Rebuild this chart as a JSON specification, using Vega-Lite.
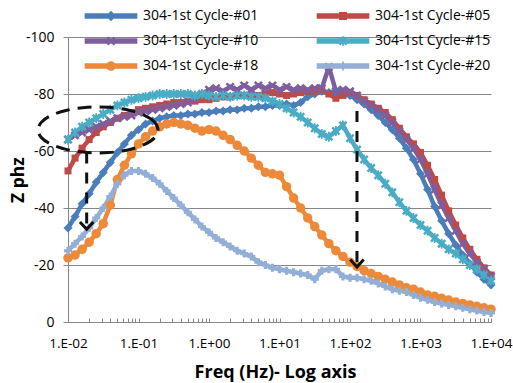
{
  "$schema": "https://vega.github.io/schema/vega-lite/v6.json",
  "width": 423,
  "height": 285,
  "autosize": "none",
  "padding": {"left": 68, "top": 37, "right": 22, "bottom": 61},
  "background": "white",
  "config": {"view": {"stroke": null}, "font": "Open Sans"},
  "datasets": {
    "series": [
      {"s":"304-1st Cycle-#01","f":0.01,"z":-33},{"s":"304-1st Cycle-#01","f":0.01259,"z":-37},{"s":"304-1st Cycle-#01","f":0.01585,"z":-41.5},{"s":"304-1st Cycle-#01","f":0.01995,"z":-45},{"s":"304-1st Cycle-#01","f":0.02512,"z":-49},{"s":"304-1st Cycle-#01","f":0.03162,"z":-52.5},{"s":"304-1st Cycle-#01","f":0.03981,"z":-56},{"s":"304-1st Cycle-#01","f":0.05012,"z":-59.5},{"s":"304-1st Cycle-#01","f":0.0631,"z":-62.5},{"s":"304-1st Cycle-#01","f":0.07943,"z":-65.5},{"s":"304-1st Cycle-#01","f":0.1,"z":-67.5},
      {"s":"304-1st Cycle-#01","f":0.1259,"z":-69.5},{"s":"304-1st Cycle-#01","f":0.1585,"z":-70.5},{"s":"304-1st Cycle-#01","f":0.1995,"z":-71.5},{"s":"304-1st Cycle-#01","f":0.2512,"z":-72},{"s":"304-1st Cycle-#01","f":0.3162,"z":-72.5},{"s":"304-1st Cycle-#01","f":0.3981,"z":-72.5},{"s":"304-1st Cycle-#01","f":0.5012,"z":-73},{"s":"304-1st Cycle-#01","f":0.631,"z":-73},{"s":"304-1st Cycle-#01","f":0.7943,"z":-73.5},{"s":"304-1st Cycle-#01","f":1,"z":-73.5},
      {"s":"304-1st Cycle-#01","f":1.259,"z":-74},{"s":"304-1st Cycle-#01","f":1.585,"z":-74},{"s":"304-1st Cycle-#01","f":1.995,"z":-74.5},{"s":"304-1st Cycle-#01","f":2.512,"z":-74.5},{"s":"304-1st Cycle-#01","f":3.162,"z":-75},{"s":"304-1st Cycle-#01","f":3.981,"z":-75},{"s":"304-1st Cycle-#01","f":5.012,"z":-75.5},{"s":"304-1st Cycle-#01","f":6.31,"z":-75.5},{"s":"304-1st Cycle-#01","f":7.943,"z":-76},{"s":"304-1st Cycle-#01","f":10,"z":-76},
      {"s":"304-1st Cycle-#01","f":12.59,"z":-76.5},{"s":"304-1st Cycle-#01","f":15.85,"z":-76},{"s":"304-1st Cycle-#01","f":19.95,"z":-77},{"s":"304-1st Cycle-#01","f":25.12,"z":-79},{"s":"304-1st Cycle-#01","f":31.62,"z":-80},{"s":"304-1st Cycle-#01","f":39.81,"z":-81},{"s":"304-1st Cycle-#01","f":50.12,"z":-80.5},{"s":"304-1st Cycle-#01","f":63.1,"z":-81},{"s":"304-1st Cycle-#01","f":79.43,"z":-80},{"s":"304-1st Cycle-#01","f":100,"z":-79.5},
      {"s":"304-1st Cycle-#01","f":125.9,"z":-78},{"s":"304-1st Cycle-#01","f":158.5,"z":-76.5},{"s":"304-1st Cycle-#01","f":199.5,"z":-74.5},{"s":"304-1st Cycle-#01","f":251.2,"z":-72.5},{"s":"304-1st Cycle-#01","f":316.2,"z":-70},{"s":"304-1st Cycle-#01","f":398.1,"z":-67.5},{"s":"304-1st Cycle-#01","f":501.2,"z":-64.5},{"s":"304-1st Cycle-#01","f":631,"z":-61},{"s":"304-1st Cycle-#01","f":794.3,"z":-57},{"s":"304-1st Cycle-#01","f":1000,"z":-52},
      {"s":"304-1st Cycle-#01","f":1259,"z":-46.5},{"s":"304-1st Cycle-#01","f":1585,"z":-40.5},{"s":"304-1st Cycle-#01","f":1995,"z":-35.5},{"s":"304-1st Cycle-#01","f":2512,"z":-31},{"s":"304-1st Cycle-#01","f":3162,"z":-27},{"s":"304-1st Cycle-#01","f":3981,"z":-23.5},{"s":"304-1st Cycle-#01","f":5012,"z":-20.5},{"s":"304-1st Cycle-#01","f":6310,"z":-17.5},{"s":"304-1st Cycle-#01","f":7943,"z":-15},{"s":"304-1st Cycle-#01","f":10000,"z":-13},

      {"s":"304-1st Cycle-#05","f":0.01,"z":-53},{"s":"304-1st Cycle-#05","f":0.01259,"z":-57.5},{"s":"304-1st Cycle-#05","f":0.01585,"z":-61},{"s":"304-1st Cycle-#05","f":0.01995,"z":-64},{"s":"304-1st Cycle-#05","f":0.02512,"z":-66.5},{"s":"304-1st Cycle-#05","f":0.03162,"z":-68.5},{"s":"304-1st Cycle-#05","f":0.03981,"z":-70},{"s":"304-1st Cycle-#05","f":0.05012,"z":-71.5},{"s":"304-1st Cycle-#05","f":0.0631,"z":-72.5},{"s":"304-1st Cycle-#05","f":0.07943,"z":-73.5},{"s":"304-1st Cycle-#05","f":0.1,"z":-74.5},
      {"s":"304-1st Cycle-#05","f":0.1259,"z":-75},{"s":"304-1st Cycle-#05","f":0.1585,"z":-75.5},{"s":"304-1st Cycle-#05","f":0.1995,"z":-76},{"s":"304-1st Cycle-#05","f":0.2512,"z":-76.5},{"s":"304-1st Cycle-#05","f":0.3162,"z":-77},{"s":"304-1st Cycle-#05","f":0.3981,"z":-77},{"s":"304-1st Cycle-#05","f":0.5012,"z":-77.5},{"s":"304-1st Cycle-#05","f":0.631,"z":-77.5},{"s":"304-1st Cycle-#05","f":0.7943,"z":-78},{"s":"304-1st Cycle-#05","f":1,"z":-78},
      {"s":"304-1st Cycle-#05","f":1.259,"z":-78.5},{"s":"304-1st Cycle-#05","f":1.585,"z":-79},{"s":"304-1st Cycle-#05","f":1.995,"z":-79},{"s":"304-1st Cycle-#05","f":2.512,"z":-79.5},{"s":"304-1st Cycle-#05","f":3.162,"z":-79.5},{"s":"304-1st Cycle-#05","f":3.981,"z":-80},{"s":"304-1st Cycle-#05","f":5.012,"z":-79.5},{"s":"304-1st Cycle-#05","f":6.31,"z":-80},{"s":"304-1st Cycle-#05","f":7.943,"z":-80.5},{"s":"304-1st Cycle-#05","f":10,"z":-80},
      {"s":"304-1st Cycle-#05","f":12.59,"z":-79.5},{"s":"304-1st Cycle-#05","f":15.85,"z":-80},{"s":"304-1st Cycle-#05","f":19.95,"z":-80.5},{"s":"304-1st Cycle-#05","f":25.12,"z":-81},{"s":"304-1st Cycle-#05","f":31.62,"z":-81},{"s":"304-1st Cycle-#05","f":39.81,"z":-81.5},{"s":"304-1st Cycle-#05","f":50.12,"z":-80},{"s":"304-1st Cycle-#05","f":63.1,"z":-78.5},{"s":"304-1st Cycle-#05","f":79.43,"z":-79.5},{"s":"304-1st Cycle-#05","f":100,"z":-80.5},
      {"s":"304-1st Cycle-#05","f":125.9,"z":-79.5},{"s":"304-1st Cycle-#05","f":158.5,"z":-78},{"s":"304-1st Cycle-#05","f":199.5,"z":-76.5},{"s":"304-1st Cycle-#05","f":251.2,"z":-75},{"s":"304-1st Cycle-#05","f":316.2,"z":-73.5},{"s":"304-1st Cycle-#05","f":398.1,"z":-71},{"s":"304-1st Cycle-#05","f":501.2,"z":-68},{"s":"304-1st Cycle-#05","f":631,"z":-65},{"s":"304-1st Cycle-#05","f":794.3,"z":-62.5},{"s":"304-1st Cycle-#05","f":1000,"z":-59.5},
      {"s":"304-1st Cycle-#05","f":1259,"z":-55},{"s":"304-1st Cycle-#05","f":1585,"z":-50},{"s":"304-1st Cycle-#05","f":1995,"z":-44.5},{"s":"304-1st Cycle-#05","f":2512,"z":-39},{"s":"304-1st Cycle-#05","f":3162,"z":-34},{"s":"304-1st Cycle-#05","f":3981,"z":-29.5},{"s":"304-1st Cycle-#05","f":5012,"z":-25.5},{"s":"304-1st Cycle-#05","f":6310,"z":-22},{"s":"304-1st Cycle-#05","f":7943,"z":-19},{"s":"304-1st Cycle-#05","f":10000,"z":-16.5},

      {"s":"304-1st Cycle-#10","f":0.01,"z":-64},{"s":"304-1st Cycle-#10","f":0.01259,"z":-65.5},{"s":"304-1st Cycle-#10","f":0.01585,"z":-66.5},{"s":"304-1st Cycle-#10","f":0.01995,"z":-67.5},{"s":"304-1st Cycle-#10","f":0.02512,"z":-68.5},{"s":"304-1st Cycle-#10","f":0.03162,"z":-69.5},{"s":"304-1st Cycle-#10","f":0.03981,"z":-70.5},{"s":"304-1st Cycle-#10","f":0.05012,"z":-71.5},{"s":"304-1st Cycle-#10","f":0.0631,"z":-72},{"s":"304-1st Cycle-#10","f":0.07943,"z":-72.5},{"s":"304-1st Cycle-#10","f":0.1,"z":-73.5},
      {"s":"304-1st Cycle-#10","f":0.1259,"z":-74},{"s":"304-1st Cycle-#10","f":0.1585,"z":-74.5},{"s":"304-1st Cycle-#10","f":0.1995,"z":-75},{"s":"304-1st Cycle-#10","f":0.2512,"z":-75.5},{"s":"304-1st Cycle-#10","f":0.3162,"z":-76},{"s":"304-1st Cycle-#10","f":0.3981,"z":-76.5},{"s":"304-1st Cycle-#10","f":0.5012,"z":-77},{"s":"304-1st Cycle-#10","f":0.631,"z":-78},{"s":"304-1st Cycle-#10","f":0.7943,"z":-80},{"s":"304-1st Cycle-#10","f":1,"z":-81.5},
      {"s":"304-1st Cycle-#10","f":1.259,"z":-82},{"s":"304-1st Cycle-#10","f":1.585,"z":-81},{"s":"304-1st Cycle-#10","f":1.995,"z":-82.5},{"s":"304-1st Cycle-#10","f":2.512,"z":-81.5},{"s":"304-1st Cycle-#10","f":3.162,"z":-83},{"s":"304-1st Cycle-#10","f":3.981,"z":-81.5},{"s":"304-1st Cycle-#10","f":5.012,"z":-83},{"s":"304-1st Cycle-#10","f":6.31,"z":-82},{"s":"304-1st Cycle-#10","f":7.943,"z":-83},{"s":"304-1st Cycle-#10","f":10,"z":-81.5},
      {"s":"304-1st Cycle-#10","f":12.59,"z":-82.5},{"s":"304-1st Cycle-#10","f":15.85,"z":-81.5},{"s":"304-1st Cycle-#10","f":19.95,"z":-82},{"s":"304-1st Cycle-#10","f":25.12,"z":-81.5},{"s":"304-1st Cycle-#10","f":31.62,"z":-82},{"s":"304-1st Cycle-#10","f":39.81,"z":-82},{"s":"304-1st Cycle-#10","f":50.12,"z":-89.5},{"s":"304-1st Cycle-#10","f":63.1,"z":-81},{"s":"304-1st Cycle-#10","f":79.43,"z":-81.5},{"s":"304-1st Cycle-#10","f":100,"z":-81},
      {"s":"304-1st Cycle-#10","f":125.9,"z":-79.5},{"s":"304-1st Cycle-#10","f":158.5,"z":-77.5},{"s":"304-1st Cycle-#10","f":199.5,"z":-76},{"s":"304-1st Cycle-#10","f":251.2,"z":-74.5},{"s":"304-1st Cycle-#10","f":316.2,"z":-72.5},{"s":"304-1st Cycle-#10","f":398.1,"z":-70},{"s":"304-1st Cycle-#10","f":501.2,"z":-67},{"s":"304-1st Cycle-#10","f":631,"z":-64},{"s":"304-1st Cycle-#10","f":794.3,"z":-61},{"s":"304-1st Cycle-#10","f":1000,"z":-57},
      {"s":"304-1st Cycle-#10","f":1259,"z":-52},{"s":"304-1st Cycle-#10","f":1585,"z":-46.5},{"s":"304-1st Cycle-#10","f":1995,"z":-41},{"s":"304-1st Cycle-#10","f":2512,"z":-36.5},{"s":"304-1st Cycle-#10","f":3162,"z":-32},{"s":"304-1st Cycle-#10","f":3981,"z":-27.5},{"s":"304-1st Cycle-#10","f":5012,"z":-24},{"s":"304-1st Cycle-#10","f":6310,"z":-21},{"s":"304-1st Cycle-#10","f":7943,"z":-18.5},{"s":"304-1st Cycle-#10","f":10000,"z":-16},

      {"s":"304-1st Cycle-#15","f":0.01,"z":-64},{"s":"304-1st Cycle-#15","f":0.01259,"z":-66.5},{"s":"304-1st Cycle-#15","f":0.01585,"z":-68.5},{"s":"304-1st Cycle-#15","f":0.01995,"z":-70},{"s":"304-1st Cycle-#15","f":0.02512,"z":-71.5},{"s":"304-1st Cycle-#15","f":0.03162,"z":-73},{"s":"304-1st Cycle-#15","f":0.03981,"z":-74.5},{"s":"304-1st Cycle-#15","f":0.05012,"z":-76},{"s":"304-1st Cycle-#15","f":0.0631,"z":-77},{"s":"304-1st Cycle-#15","f":0.07943,"z":-78},{"s":"304-1st Cycle-#15","f":0.1,"z":-78.5},
      {"s":"304-1st Cycle-#15","f":0.1259,"z":-79},{"s":"304-1st Cycle-#15","f":0.1585,"z":-79.5},{"s":"304-1st Cycle-#15","f":0.1995,"z":-80},{"s":"304-1st Cycle-#15","f":0.2512,"z":-80},{"s":"304-1st Cycle-#15","f":0.3162,"z":-80},{"s":"304-1st Cycle-#15","f":0.3981,"z":-80},{"s":"304-1st Cycle-#15","f":0.5012,"z":-80},{"s":"304-1st Cycle-#15","f":0.631,"z":-79.5},{"s":"304-1st Cycle-#15","f":0.7943,"z":-80},{"s":"304-1st Cycle-#15","f":1,"z":-79.5},
      {"s":"304-1st Cycle-#15","f":1.259,"z":-79},{"s":"304-1st Cycle-#15","f":1.585,"z":-79.5},{"s":"304-1st Cycle-#15","f":1.995,"z":-79},{"s":"304-1st Cycle-#15","f":2.512,"z":-79.5},{"s":"304-1st Cycle-#15","f":3.162,"z":-79.5},{"s":"304-1st Cycle-#15","f":3.981,"z":-79},{"s":"304-1st Cycle-#15","f":5.012,"z":-79},{"s":"304-1st Cycle-#15","f":6.31,"z":-78.5},{"s":"304-1st Cycle-#15","f":7.943,"z":-77.5},{"s":"304-1st Cycle-#15","f":10,"z":-76.5},
      {"s":"304-1st Cycle-#15","f":12.59,"z":-75},{"s":"304-1st Cycle-#15","f":15.85,"z":-73.5},{"s":"304-1st Cycle-#15","f":19.95,"z":-72},{"s":"304-1st Cycle-#15","f":25.12,"z":-70},{"s":"304-1st Cycle-#15","f":31.62,"z":-68},{"s":"304-1st Cycle-#15","f":39.81,"z":-66},{"s":"304-1st Cycle-#15","f":50.12,"z":-65},{"s":"304-1st Cycle-#15","f":63.1,"z":-67},{"s":"304-1st Cycle-#15","f":79.43,"z":-69},{"s":"304-1st Cycle-#15","f":100,"z":-64.5},
      {"s":"304-1st Cycle-#15","f":125.9,"z":-60.5},{"s":"304-1st Cycle-#15","f":158.5,"z":-57},{"s":"304-1st Cycle-#15","f":199.5,"z":-54},{"s":"304-1st Cycle-#15","f":251.2,"z":-51.5},{"s":"304-1st Cycle-#15","f":316.2,"z":-48.5},{"s":"304-1st Cycle-#15","f":398.1,"z":-45.5},{"s":"304-1st Cycle-#15","f":501.2,"z":-42},{"s":"304-1st Cycle-#15","f":631,"z":-39},{"s":"304-1st Cycle-#15","f":794.3,"z":-36.5},{"s":"304-1st Cycle-#15","f":1000,"z":-34},
      {"s":"304-1st Cycle-#15","f":1259,"z":-32},{"s":"304-1st Cycle-#15","f":1585,"z":-29.5},{"s":"304-1st Cycle-#15","f":1995,"z":-27.5},{"s":"304-1st Cycle-#15","f":2512,"z":-25.5},{"s":"304-1st Cycle-#15","f":3162,"z":-24},{"s":"304-1st Cycle-#15","f":3981,"z":-22},{"s":"304-1st Cycle-#15","f":5012,"z":-20},{"s":"304-1st Cycle-#15","f":6310,"z":-18.5},{"s":"304-1st Cycle-#15","f":7943,"z":-16.5},{"s":"304-1st Cycle-#15","f":10000,"z":-14.5},

      {"s":"304-1st Cycle-#18","f":0.01,"z":-22.5},{"s":"304-1st Cycle-#18","f":0.01259,"z":-23.5},{"s":"304-1st Cycle-#18","f":0.01585,"z":-25.5},{"s":"304-1st Cycle-#18","f":0.01995,"z":-28},{"s":"304-1st Cycle-#18","f":0.02512,"z":-31},{"s":"304-1st Cycle-#18","f":0.03162,"z":-34.5},{"s":"304-1st Cycle-#18","f":0.03981,"z":-41},{"s":"304-1st Cycle-#18","f":0.05012,"z":-50},{"s":"304-1st Cycle-#18","f":0.0631,"z":-55},{"s":"304-1st Cycle-#18","f":0.07943,"z":-59},{"s":"304-1st Cycle-#18","f":0.1,"z":-62.5},
      {"s":"304-1st Cycle-#18","f":0.1259,"z":-65},{"s":"304-1st Cycle-#18","f":0.1585,"z":-67},{"s":"304-1st Cycle-#18","f":0.1995,"z":-68.5},{"s":"304-1st Cycle-#18","f":0.2512,"z":-69.5},{"s":"304-1st Cycle-#18","f":0.3162,"z":-70},{"s":"304-1st Cycle-#18","f":0.3981,"z":-69.5},{"s":"304-1st Cycle-#18","f":0.5012,"z":-69},{"s":"304-1st Cycle-#18","f":0.631,"z":-68},{"s":"304-1st Cycle-#18","f":0.7943,"z":-67},{"s":"304-1st Cycle-#18","f":1,"z":-67.5},
      {"s":"304-1st Cycle-#18","f":1.259,"z":-67},{"s":"304-1st Cycle-#18","f":1.585,"z":-65.5},{"s":"304-1st Cycle-#18","f":1.995,"z":-64},{"s":"304-1st Cycle-#18","f":2.512,"z":-62},{"s":"304-1st Cycle-#18","f":3.162,"z":-60},{"s":"304-1st Cycle-#18","f":3.981,"z":-57.5},{"s":"304-1st Cycle-#18","f":5.012,"z":-55},{"s":"304-1st Cycle-#18","f":6.31,"z":-52.5},{"s":"304-1st Cycle-#18","f":7.943,"z":-52},{"s":"304-1st Cycle-#18","f":10,"z":-51.5},
      {"s":"304-1st Cycle-#18","f":12.59,"z":-47.5},{"s":"304-1st Cycle-#18","f":15.85,"z":-43.5},{"s":"304-1st Cycle-#18","f":19.95,"z":-40},{"s":"304-1st Cycle-#18","f":25.12,"z":-36.5},{"s":"304-1st Cycle-#18","f":31.62,"z":-33.5},{"s":"304-1st Cycle-#18","f":39.81,"z":-30.5},{"s":"304-1st Cycle-#18","f":50.12,"z":-27.5},{"s":"304-1st Cycle-#18","f":63.1,"z":-25},{"s":"304-1st Cycle-#18","f":79.43,"z":-23},{"s":"304-1st Cycle-#18","f":100,"z":-21},
      {"s":"304-1st Cycle-#18","f":125.9,"z":-19.5},{"s":"304-1st Cycle-#18","f":158.5,"z":-18},{"s":"304-1st Cycle-#18","f":199.5,"z":-17},{"s":"304-1st Cycle-#18","f":251.2,"z":-16},{"s":"304-1st Cycle-#18","f":316.2,"z":-15},{"s":"304-1st Cycle-#18","f":398.1,"z":-14},{"s":"304-1st Cycle-#18","f":501.2,"z":-13},{"s":"304-1st Cycle-#18","f":631,"z":-12},{"s":"304-1st Cycle-#18","f":794.3,"z":-11.5},{"s":"304-1st Cycle-#18","f":1000,"z":-10.5},
      {"s":"304-1st Cycle-#18","f":1259,"z":-9.5},{"s":"304-1st Cycle-#18","f":1585,"z":-9},{"s":"304-1st Cycle-#18","f":1995,"z":-8.3},{"s":"304-1st Cycle-#18","f":2512,"z":-7.7},{"s":"304-1st Cycle-#18","f":3162,"z":-7},{"s":"304-1st Cycle-#18","f":3981,"z":-6.5},{"s":"304-1st Cycle-#18","f":5012,"z":-6},{"s":"304-1st Cycle-#18","f":6310,"z":-5.5},{"s":"304-1st Cycle-#18","f":7943,"z":-5},{"s":"304-1st Cycle-#18","f":10000,"z":-4.5},

      {"s":"304-1st Cycle-#20","f":0.01,"z":-25},{"s":"304-1st Cycle-#20","f":0.01259,"z":-27.5},{"s":"304-1st Cycle-#20","f":0.01585,"z":-30},{"s":"304-1st Cycle-#20","f":0.01995,"z":-33},{"s":"304-1st Cycle-#20","f":0.02512,"z":-36.5},{"s":"304-1st Cycle-#20","f":0.03162,"z":-40},{"s":"304-1st Cycle-#20","f":0.03981,"z":-44},{"s":"304-1st Cycle-#20","f":0.05012,"z":-48.5},{"s":"304-1st Cycle-#20","f":0.0631,"z":-51.5},{"s":"304-1st Cycle-#20","f":0.07943,"z":-53},{"s":"304-1st Cycle-#20","f":0.1,"z":-53},
      {"s":"304-1st Cycle-#20","f":0.1259,"z":-52},{"s":"304-1st Cycle-#20","f":0.1585,"z":-50.5},{"s":"304-1st Cycle-#20","f":0.1995,"z":-48.5},{"s":"304-1st Cycle-#20","f":0.2512,"z":-46},{"s":"304-1st Cycle-#20","f":0.3162,"z":-43.5},{"s":"304-1st Cycle-#20","f":0.3981,"z":-41},{"s":"304-1st Cycle-#20","f":0.5012,"z":-38.5},{"s":"304-1st Cycle-#20","f":0.631,"z":-36},{"s":"304-1st Cycle-#20","f":0.7943,"z":-33.5},{"s":"304-1st Cycle-#20","f":1,"z":-31.5},
      {"s":"304-1st Cycle-#20","f":1.259,"z":-29.5},{"s":"304-1st Cycle-#20","f":1.585,"z":-28},{"s":"304-1st Cycle-#20","f":1.995,"z":-26.5},{"s":"304-1st Cycle-#20","f":2.512,"z":-25},{"s":"304-1st Cycle-#20","f":3.162,"z":-24},{"s":"304-1st Cycle-#20","f":3.981,"z":-23},{"s":"304-1st Cycle-#20","f":5.012,"z":-21},{"s":"304-1st Cycle-#20","f":6.31,"z":-20},{"s":"304-1st Cycle-#20","f":7.943,"z":-19},{"s":"304-1st Cycle-#20","f":10,"z":-18.5},
      {"s":"304-1st Cycle-#20","f":12.59,"z":-18},{"s":"304-1st Cycle-#20","f":15.85,"z":-17.5},{"s":"304-1st Cycle-#20","f":19.95,"z":-17},{"s":"304-1st Cycle-#20","f":25.12,"z":-16.5},{"s":"304-1st Cycle-#20","f":31.62,"z":-15},{"s":"304-1st Cycle-#20","f":39.81,"z":-18},{"s":"304-1st Cycle-#20","f":50.12,"z":-18.5},{"s":"304-1st Cycle-#20","f":63.1,"z":-18.5},{"s":"304-1st Cycle-#20","f":79.43,"z":-16},{"s":"304-1st Cycle-#20","f":100,"z":-15.5},
      {"s":"304-1st Cycle-#20","f":125.9,"z":-15.5},{"s":"304-1st Cycle-#20","f":158.5,"z":-15},{"s":"304-1st Cycle-#20","f":199.5,"z":-14.5},{"s":"304-1st Cycle-#20","f":251.2,"z":-13.5},{"s":"304-1st Cycle-#20","f":316.2,"z":-12.5},{"s":"304-1st Cycle-#20","f":398.1,"z":-11.5},{"s":"304-1st Cycle-#20","f":501.2,"z":-11},{"s":"304-1st Cycle-#20","f":631,"z":-10.5},{"s":"304-1st Cycle-#20","f":794.3,"z":-9.5},{"s":"304-1st Cycle-#20","f":1000,"z":-8.5},
      {"s":"304-1st Cycle-#20","f":1259,"z":-7.8},{"s":"304-1st Cycle-#20","f":1585,"z":-7},{"s":"304-1st Cycle-#20","f":1995,"z":-6.5},{"s":"304-1st Cycle-#20","f":2512,"z":-6},{"s":"304-1st Cycle-#20","f":3162,"z":-5.5},{"s":"304-1st Cycle-#20","f":3981,"z":-5},{"s":"304-1st Cycle-#20","f":5012,"z":-4.5},{"s":"304-1st Cycle-#20","f":6310,"z":-4},{"s":"304-1st Cycle-#20","f":7943,"z":-3.5},{"s":"304-1st Cycle-#20","f":10000,"z":-3.2}
    ],
    "ellipse": [
      {"i":0,"f":0.1892,"z":-67.4},{"i":1,"f":0.1683,"z":-70.2},{"i":2,"f":0.1197,"z":-72.6},{"i":3,"f":0.071,"z":-74.4},{"i":4,"f":0.0375,"z":-75.35},{"i":5,"f":0.019,"z":-75.35},{"i":6,"f":0.01002,"z":-74.4},{"i":7,"f":0.00594,"z":-72.6},{"i":8,"f":0.00423,"z":-70.2},{"i":9,"f":0.00376,"z":-67.4},{"i":10,"f":0.00423,"z":-64.6},{"i":11,"f":0.00594,"z":-62.2},{"i":12,"f":0.01002,"z":-60.4},{"i":13,"f":0.019,"z":-59.45},{"i":14,"f":0.0375,"z":-59.45},{"i":15,"f":0.071,"z":-60.4},{"i":16,"f":0.1197,"z":-62.2},{"i":17,"f":0.1683,"z":-64.6}
    ],
    "arrows": [
      {"f":0.0184,"z1":-59.5,"z2":-32.5},
      {"f":125.6,"z1":-74,"z2":-19.3}
    ]
  },
  "layer": [
    {
      "data": {"name": "series"},
      "mark": {"type": "line", "strokeWidth": 4.5, "strokeJoin": "round", "strokeCap": "round"},
      "encoding": {
        "x": {"field": "f", "type": "quantitative",
          "scale": {"type": "log", "domain": [0.01, 10000], "nice": false},
          "axis": {
            "values": [0.01,0.02,0.03,0.04,0.05,0.06,0.07,0.08,0.09,0.1,0.2,0.3,0.4,0.5,0.6,0.7,0.8,0.9,1,2,3,4,5,6,7,8,9,10,20,30,40,50,60,70,80,90,100,200,300,400,500,600,700,800,900,1000,2000,3000,4000,5000,6000,7000,8000,9000,10000],
            "labelExpr": "abs(log(datum.value)/LN10 - round(log(datum.value)/LN10)) < 0.000001 ? '1.E' + (datum.value < 1 ? '-' : '+') + (abs(round(log(datum.value)/LN10)) < 10 ? '0' : '') + abs(round(log(datum.value)/LN10)) : ''",
            "title": "Freq (Hz)- Log axis",
            "grid": false, "tickSize": -4, "tickColor": "#868686", "domainColor": "#868686",
            "labelPadding": 25, "labelBaseline": "middle", "labelFont": "Open Sans", "labelFontSize": 13.5, "labelColor": "#000000",
            "labelFlush": false, "labelOverlap": false, "labelBound": false,
            "titleFont": "Open Sans", "titleFontSize": 18, "titleFontWeight": "bold", "titleColor": "#000000",
            "titleX": 207, "titleY": 50, "titleBaseline": "middle", "titleAlign": "center"
          }
        },
        "y": {"field": "z", "type": "quantitative",
          "scale": {"domain": [-100, 0], "reverse": true, "nice": false, "zero": false},
          "axis": {
            "values": [-100, -80, -60, -40, -20, 0],
            "labelExpr": "datum.value == 0 ? '0' : '-' + abs(datum.value)",
            "title": "Z phz",
            "grid": true, "gridColor": "#868686", "domainColor": "#868686", "tickColor": "#868686", "tickSize": 5,
            "labelPadding": 9, "labelFont": "Open Sans", "labelFontSize": 14, "labelColor": "#000000", "labelFlush": false, "labelOverlap": false,
            "titleFont": "Open Sans", "titleFontSize": 17.5, "titleFontWeight": "bold", "titleColor": "#000000",
            "titleX": -50, "titleY": 142.5, "titleAngle": -90, "titleBaseline": "middle", "titleAlign": "center"
          }
        },
        "color": {"field": "s", "type": "nominal",
          "scale": {"domain": ["304-1st Cycle-#01","304-1st Cycle-#05","304-1st Cycle-#10","304-1st Cycle-#15","304-1st Cycle-#18","304-1st Cycle-#20"],
                    "range": ["#4A7EBB","#BE4B48","#7D5FA0","#4AACC5","#EC8A3A","#93AFD8"]},
          "legend": {
            "orient": "none", "legendX": 36, "legendY": -28, "columns": 2, "direction": "horizontal", "title": null, "padding": 0,
            "symbolSize": 77, "labelOffset": 25, "labelFont": "Open Sans", "labelFontSize": 14, "labelColor": "#000000", "labelLimit": 300,
            "rowPadding": 11, "columnPadding": 57,
            "encode": {"symbols": {"update": {
              "shape": {"signal": "datum.value == '304-1st Cycle-#01' ? 'M-6,-0.6L6,-0.6L6,0.6L-6,0.6ZM0,-1.2L1.2,0L0,1.2L-1.2,0Z' : datum.value == '304-1st Cycle-#05' ? 'M-6,-0.6L6,-0.6L6,0.6L-6,0.6ZM-0.9,-0.9L0.9,-0.9L0.9,0.9L-0.9,0.9Z' : datum.value == '304-1st Cycle-#10' ? 'M-6,-0.6L6,-0.6L6,0.6L-6,0.6ZM-1,-0.6L-0.6,-1L0,-0.4L0.6,-1L1,-0.6L0.4,0L1,0.6L0.6,1L0,0.4L-0.6,1L-1,0.6L-0.4,0Z' : datum.value == '304-1st Cycle-#15' ? 'M-6,-0.6L6,-0.6L6,0.6L-6,0.6ZM-1,-0.6L-0.6,-1L0,-0.4L0.6,-1L1,-0.6L0.4,0L1,0.6L0.6,1L0,0.4L-0.6,1L-1,0.6L-0.4,0ZM-0.2,-1.1L0.2,-1.1L0.2,1.1L-0.2,1.1Z' : datum.value == '304-1st Cycle-#18' ? 'M-6,-0.6L6,-0.6L6,0.6L-6,0.6ZM-1.1,0A1.1,1.1 0 1,1 1.1,0A1.1,1.1 0 1,1 -1.1,0Z' : 'M-6,-0.6L6,-0.6L6,0.6L-6,0.6ZM-0.2,-1L0.2,-1L0.2,-0.2L1,-0.2L1,0.2L0.2,0.2L0.2,1L-0.2,1L-0.2,0.2L-1,0.2L-1,-0.2L-0.2,-0.2Z'"},
              "fill": {"signal": "scale('color', datum.value)"},
              "stroke": {"value": "transparent"},
              "strokeWidth": {"value": 0},
              "size": {"value": 77},
              "opacity": {"value": 1}
            }}}
          }
        }
      }
    },
    {
      "data": {"name": "series"},
      "transform": [{"filter": "datum.s == '304-1st Cycle-#01'"}],
      "mark": {"type": "point", "filled": true, "opacity": 1, "shape": "diamond", "size": 81, "color": "#4A7EBB"},
      "encoding": {"x": {"field": "f", "type": "quantitative"}, "y": {"field": "z", "type": "quantitative"}}
    },
    {
      "data": {"name": "series"},
      "transform": [{"filter": "datum.s == '304-1st Cycle-#05'"}],
      "mark": {"type": "point", "filled": true, "opacity": 1, "shape": "square", "size": 49, "color": "#BE4B48"},
      "encoding": {"x": {"field": "f", "type": "quantitative"}, "y": {"field": "z", "type": "quantitative"}}
    },
    {
      "data": {"name": "series"},
      "transform": [{"filter": "datum.s == '304-1st Cycle-#10'"}],
      "mark": {"type": "point", "filled": true, "opacity": 1, "shape": "M-1,-0.6L-0.6,-1L0,-0.4L0.6,-1L1,-0.6L0.4,0L1,0.6L0.6,1L0,0.4L-0.6,1L-1,0.6L-0.4,0Z", "size": 81, "color": "#7D5FA0"},
      "encoding": {"x": {"field": "f", "type": "quantitative"}, "y": {"field": "z", "type": "quantitative"}}
    },
    {
      "data": {"name": "series"},
      "transform": [{"filter": "datum.s == '304-1st Cycle-#15'"}],
      "mark": {"type": "point", "filled": true, "opacity": 1, "shape": "M-1,-0.6L-0.6,-1L0,-0.4L0.6,-1L1,-0.6L0.4,0L1,0.6L0.6,1L0,0.4L-0.6,1L-1,0.6L-0.4,0ZM-0.2,-1.1L0.2,-1.1L0.2,1.1L-0.2,1.1Z", "size": 81, "color": "#4AACC5"},
      "encoding": {"x": {"field": "f", "type": "quantitative"}, "y": {"field": "z", "type": "quantitative"}}
    },
    {
      "data": {"name": "series"},
      "transform": [{"filter": "datum.s == '304-1st Cycle-#18'"}],
      "mark": {"type": "point", "filled": true, "opacity": 1, "shape": "circle", "size": 90, "color": "#EC8A3A"},
      "encoding": {"x": {"field": "f", "type": "quantitative"}, "y": {"field": "z", "type": "quantitative"}}
    },
    {
      "data": {"name": "series"},
      "transform": [{"filter": "datum.s == '304-1st Cycle-#20'"}],
      "mark": {"type": "point", "filled": true, "opacity": 1, "shape": "cross", "size": 64, "color": "#93AFD8"},
      "encoding": {"x": {"field": "f", "type": "quantitative"}, "y": {"field": "z", "type": "quantitative"}}
    },
    {
      "data": {"name": "ellipse"},
      "mark": {"type": "line", "interpolate": "cardinal-closed", "color": "#111111", "strokeWidth": 3, "strokeDash": [14, 8]},
      "encoding": {
        "x": {"field": "f", "type": "quantitative"},
        "y": {"field": "z", "type": "quantitative"},
        "order": {"field": "i", "type": "quantitative"}
      }
    },
    {
      "data": {"name": "arrows"},
      "mark": {"type": "rule", "color": "#111111", "strokeWidth": 3, "strokeDash": [11, 9]},
      "encoding": {
        "x": {"field": "f", "type": "quantitative"},
        "y": {"field": "z1", "type": "quantitative"},
        "y2": {"field": "z2"}
      }
    },
    {
      "data": {"name": "arrows"},
      "mark": {"type": "point", "shape": "M-1,-1.1L0,0L1,-1.1", "filled": false, "color": "#111111", "strokeWidth": 3, "size": 180, "opacity": 1},
      "encoding": {
        "x": {"field": "f", "type": "quantitative"},
        "y": {"field": "z2", "type": "quantitative"}
      }
    }
  ]
}
